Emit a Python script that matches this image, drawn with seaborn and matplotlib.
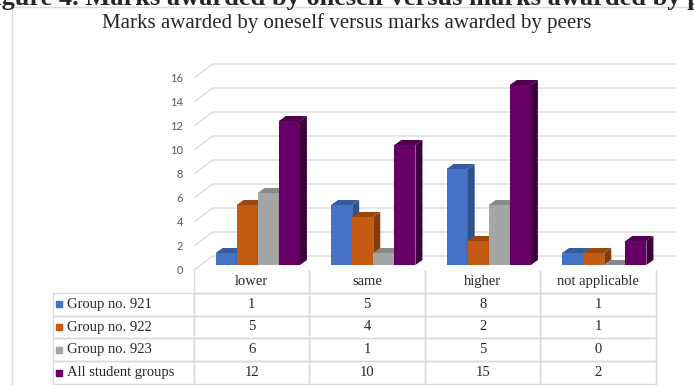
import numpy as np
import pandas as pd
import seaborn as sns
import matplotlib.pyplot as plt
from matplotlib.patches import Polygon
from matplotlib.lines import Line2D
from matplotlib.table import Table

# data
categories = ["lower", "same", "higher", "not applicable"]
groups = ["Group no. 921", "Group no. 922", "Group no. 923", "All student groups"]
group_921 = [1, 5, 8, 1]
group_922 = [5, 4, 2, 1]
group_923 = [6, 1, 5, 0]
all_groups = [12, 10, 15, 2]
y_ticks = [0, 2, 4, 6, 8, 10, 12, 14, 16]

title = "Marks awarded by oneself versus marks awarded by peers"
caption = "Figure 4. Marks awarded by oneself versus marks awarded by peers"

front_colors = ["#4472C4", "#C55A11", "#A5A5A5", "#660066"]
side_colors = ["#2F528F", "#843C0B", "#7B7B7B", "#3D003D"]
top_colors = ["#365C9E", "#9C4710", "#898989", "#4E004E"]
grid_color = "#D9D9D9"

values = [group_921, group_922, group_923, all_groups]
df = pd.DataFrame({
    "category": np.tile(categories, len(groups)),
    "group": np.repeat(groups, len(categories)),
    "value": np.concatenate(values),
})

###############################################################################
# figure / layout helpers (pixel boxes, origin top-left)
###############################################################################
W, H = 694, 385
sns.set_style("white")
plt.rcParams["font.family"] = ["Liberation Serif", "DejaVu Serif"]

fig = plt.figure(figsize=(W / 100, H / 100), dpi=100)


def fig_box(x0, y0, x1, y1):
    return [x0 / W, 1 - y1 / H, (x1 - x0) / W, (y1 - y0) / H]


# chart frame
fig.add_artist(Line2D([12 / W, 12 / W, 1], [0, 1 - 7 / H, 1 - 7 / H],
                      transform=fig.transFigure, color=grid_color, lw=1))

# caption of the source document, cut by the top edge
fig.text(-22 / W, 1 - 5 / H, caption, fontsize=19, fontweight="bold",
         ha="left", va="baseline")
fig.text(347 / W, 1 - 23 / H, title, fontsize=15, ha="center", va="center")

###############################################################################
# bars (front plane) + fake 3D
###############################################################################
plot_l, plot_r, plot_t, plot_b = 200, 662, 73, 265
ax = fig.add_axes(fig_box(plot_l, plot_t, plot_r, plot_b))
sns.barplot(data=df, x="category", y="value", hue="group",
            order=categories, hue_order=groups, palette=front_colors,
            saturation=1, width=0.73, linewidth=0, legend=False, ax=ax)
ax.set_xlim(-0.5, len(categories) - 0.5)
ax.set_ylim(0, 16)
ax.axis("off")

sx = len(categories) / (plot_r - plot_l)   # data units per pixel
sy = 16 / (plot_b - plot_t)
xl, xr = -0.5, len(categories) - 0.5

# back wall gridlines and side wall diagonals
for v in y_ticks:
    ax.plot([xl - 6 * sx, xl + 13 * sx, xr + 13 * sx],
            [v - 5 * sy, v + 9 * sy, v + 9 * sy],
            color=grid_color, lw=1, clip_on=False, zorder=0)
    ax.text(xl - 17 * sx, v - 5 * sy, str(v), ha="right", va="center",
            fontsize=8, color="#595959", family=["Lato", "DejaVu Sans"])

bars = []
for gi, cont in enumerate(ax.containers):
    for bar in cont:
        bars.append((bar.get_x(), gi, bar))
bars.sort(key=lambda t: t[0])

dx, dy = 7 * sx, 5 * sy
for k, (x0, gi, bar) in enumerate(bars):
    w, h = bar.get_width(), bar.get_height()
    z = 2 + k * 0.01
    bar.set_zorder(z)
    side = Polygon([(x0 + w, 0), (x0 + w + dx, dy), (x0 + w + dx, h + dy), (x0 + w, h)],
                   closed=True, facecolor=side_colors[gi], edgecolor="none",
                   zorder=z, clip_on=False)
    top = Polygon([(x0, h), (x0 + dx, h + dy), (x0 + w + dx, h + dy), (x0 + w, h)],
                  closed=True, facecolor=top_colors[gi], edgecolor="none",
                  zorder=z, clip_on=False)
    ax.add_patch(side)
    ax.add_patch(top)

###############################################################################
# data table
###############################################################################
tbl_l, tbl_r, tbl_t, tbl_b = 52.7, 656, 270, 384
tax = fig.add_axes(fig_box(tbl_l, tbl_t, tbl_r, tbl_b))
tax.set_xlim(0, 1)
tax.set_ylim(0, 1)
tax.axis("off")

lab_w = (194 - tbl_l) / (tbl_r - tbl_l)
col_w = [lab_w] + [(1 - lab_w) / len(categories)] * len(categories)
rh = 1 / (len(groups) + 1)

tb = Table(tax, bbox=[0, 0, 1, 1])
c = tb.add_cell(0, 0, col_w[0], rh, text="", loc="left")
c.visible_edges = ""
for j, cat in enumerate(categories):
    c = tb.add_cell(0, j + 1, col_w[j + 1], rh, text=cat, loc="center")
    c.visible_edges = "BLR"
for i, g in enumerate(groups):
    tb.add_cell(i + 1, 0, col_w[0], rh, text=g, loc="left")
    for j in range(len(categories)):
        tb.add_cell(i + 1, j + 1, col_w[j + 1], rh, text=str(values[i][j]), loc="center")

tb.auto_set_font_size(False)
tb.set_fontsize(10.5)
for cell in tb.get_celld().values():
    cell.set_edgecolor(grid_color)
    cell.set_facecolor("none")
    cell.set_linewidth(1)
    cell.get_text().set_color("#262626")
tax.add_table(tb)

# legend keys in the row labels
for i, g in enumerate(groups):
    tax.scatter(0.0105, 1 - (i + 1.5) * rh, marker="s", s=20,
                color=front_colors[i], zorder=5, clip_on=False)

fig.savefig("out.png", dpi=100)
